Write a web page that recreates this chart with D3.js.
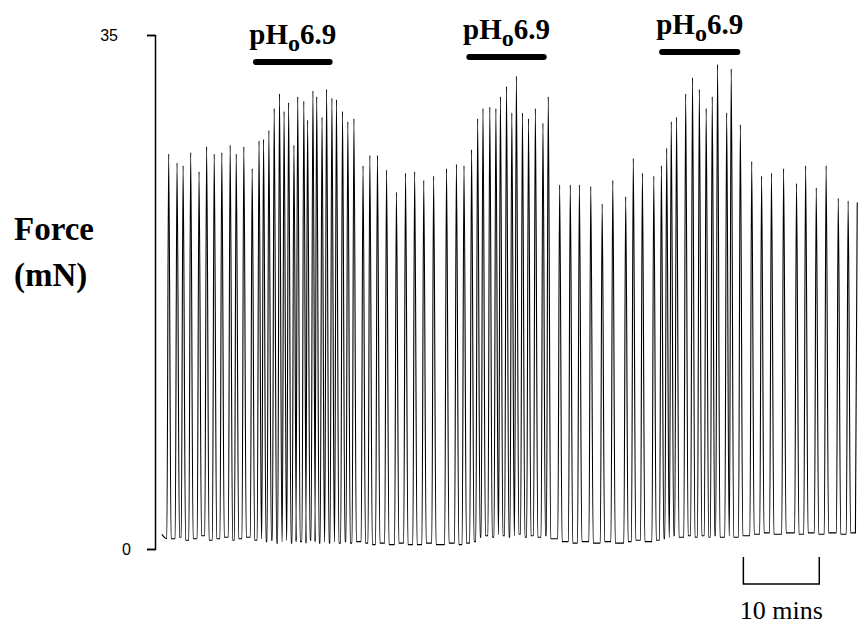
<!DOCTYPE html>
<html>
<head>
<meta charset="utf-8">
<script src="https://cdn.jsdelivr.net/npm/d3@7/dist/d3.min.js"></script>
<style>
    body { margin: 0; background: #fff; }
</style>
</head>
<body>
<div id="chart"></div>
<script>
// time of each contraction peak (mins from start of record)
let peakTime = [1.8, 2.9, 3.7, 4.7, 5.8, 6.8, 7.8, 8.8, 9.9, 10.7, 11.7, 12.8, 13.7,
    14.3, 15.0, 15.7, 16.4, 17.0, 17.6, 18.3, 18.8, 19.6, 20.1, 20.8, 21.3, 22.0, 22.6,
    23.3, 23.9, 24.7, 25.4, 26.2,
    27.4, 28.3, 29.3, 30.5, 31.8, 33.0, 34.2, 35.4, 36.7, 38.4, 39.7, 40.7, 41.7,
    42.5, 43.2, 44.1, 44.9, 45.5, 46.3, 47.0, 47.6, 48.4, 49.2, 50.1, 51.1, 51.8,
    53.3, 54.7, 55.9, 57.4, 58.9, 60.3, 62.0, 63.0, 64.2, 65.7, 66.7,
    67.4, 68.0, 68.7, 69.9, 70.8, 71.7, 72.6, 73.4, 74.1, 75.3, 75.9, 77.1,
    78.6, 79.9, 81.2, 82.8, 84.5, 85.7, 87.1, 88.4, 90.0, 91.3, 92.5]

// peak force of each contraction (mN)
let peakForce = [26.9, 26.3, 26.1, 27.0, 25.7, 27.4, 26.9, 27.0, 27.5, 26.9, 27.4, 25.9, 27.8,
    27.9, 28.5, 30.0, 31.0, 29.8, 30.4, 27.5, 30.8, 30.5, 29.2, 31.2, 30.8, 29.4, 31.3,
    30.7, 30.6, 29.8, 29.1, 29.3,
    26.1, 26.8, 26.8, 25.8, 24.3, 25.6, 25.7, 25.1, 25.4, 25.9, 26.2, 26.1, 27.2,
    29.3, 30.0, 30.1, 30.0, 30.8, 31.5, 29.7, 32.2, 29.7, 29.3, 30.0, 29.0, 30.8,
    24.8, 24.8, 24.8, 24.7, 23.5, 25.1, 24.0, 26.6, 25.6, 25.4, 26.1,
    27.3, 29.1, 29.4, 31.0, 32.1, 31.3, 30.0, 30.8, 33.0, 29.7, 32.7, 28.9,
    26.4, 25.4, 25.6, 25.9, 24.9, 26.1, 24.6, 26.1, 23.9, 23.7, 23.6]

// resting force after each contraction (mN)
let troughForce = [0.7, 0.8, 0.6, 0.7, 0.9, 0.6, 0.7, 0.8, 0.6, 0.7, 0.8, 0.6, 0.7,
    0.5, 0.6, 0.4, 0.5, 0.6, 0.4, 0.5, 0.5, 0.4, 0.6, 0.5, 0.4, 0.5, 0.4,
    0.5, 0.4, 0.5, 0.4, 0.5,
    0.4, 0.3, 0.4, 0.3, 0.4, 0.3, 0.3, 0.4, 0.3, 0.4, 0.3, 0.4, 0.5,
    0.8, 0.9, 0.8, 1.0, 0.9, 0.8, 0.9, 1.0, 0.8, 0.9, 0.8, 0.9, 0.7,
    0.5, 0.4, 0.5, 0.4, 0.5, 0.4, 0.5, 0.6, 0.5, 0.6, 0.7,
    0.8, 0.9, 0.8, 0.9, 0.8, 0.9, 0.8, 0.9, 0.8, 0.9, 0.8, 0.9,
    1.0, 1.1, 1.0, 1.1, 1.0, 1.1, 1.0, 1.1, 1.0, 1.1, 1.0]

// periods of acid superfusion (mins)
let acidStart = [13.3, 41.4, 66.8]
let acidEnd = [23.0, 51.2, 76.7]
let acidText = "6.9"

let yTicks = [0, 35]
let scaleBarStart = 77.5
let scaleBarMins = 10

let width = 859,
    height = 628;

let svg = d3.select("#chart")
    .append("svg")
    .attr("width", width)
    .attr("height", height)
    .style("font-family", "'Liberation Serif', 'Times New Roman', serif");

let x = d3.scaleLinear()
    .domain([0, 92.6])
    .range([155, 858]);

let y = d3.scaleLinear()
    .domain([0, 35])
    .range([549, 35]);

// Y axis, only 0 and 35 marked
let yAxis = svg.append("g")
    .attr("transform", "translate(" + x(0) + ",0)")
    .call(d3.axisLeft(y).tickValues(yTicks).tickSize(8).tickSizeOuter(8).tickPadding(26))
    .attr("font-size", 16)
    .attr("font-family", "'Liberation Sans', Arial, sans-serif");
yAxis.select(".domain").attr("stroke-width", 1.5);
yAxis.selectAll(".tick line").attr("stroke-width", 1.5);
yAxis.selectAll(".tick text")
    .style("font-size", "16px")
    .attr("x", (d) => d === 35 ? -37 : -24);

svg.append("text")
    .attr("x", 14).attr("y", 240)
    .style("font-weight", "bold").style("font-size", "33px")
    .text("Force");
svg.append("text")
    .attr("x", 14).attr("y", 286)
    .style("font-weight", "bold").style("font-size", "33px")
    .text("(mN)");

// build the trace: each contraction rises from rest, peaks and relaxes
let rise = 0.24,
    fall = 0.32;
let trace = [];
peakTime.forEach((t, i) => {
    let before = i === 0 ? troughForce[0] : troughForce[i - 1];
    trace.push({ t: t - rise, f: before });
    trace.push({ t: t, f: peakForce[i] });
    if (i < peakTime.length - 1) trace.push({ t: t + fall, f: troughForce[i] });
});
trace.unshift({ t: peakTime[0] - 0.9, f: troughForce[0] + 0.3 });

let line = d3.line()
    .x((d) => x(d.t))
    .y((d) => y(d.f))
    .curve(d3.curveMonotoneX);

svg.append("path")
    .attr("d", line(trace))
    .attr("fill", "none")
    .attr("stroke", "#000")
    .attr("stroke-width", 1.1);

// acid bars and labels
let barY = [62, 57, 52];
let acid = acidStart.map((s, i) => ({ start: s, end: acidEnd[i], y: barY[i] }));

svg.selectAll("acidBars")
    .data(acid)
    .enter()
    .append("line")
    .attr("x1", (d) => x(d.start))
    .attr("x2", (d) => x(d.end))
    .attr("y1", (d) => d.y)
    .attr("y2", (d) => d.y)
    .attr("stroke", "#000")
    .attr("stroke-width", 6)
    .attr("stroke-linecap", "round");

let labels = svg.selectAll("acidLabels")
    .data(acid)
    .enter()
    .append("text")
    .attr("x", (d) => (x(d.start) + x(d.end)) / 2)
    .attr("y", (d) => d.y - 18)
    .attr("text-anchor", "middle")
    .style("font-weight", "bold")
    .style("font-size", "29px");
labels.append("tspan").text("pH");
labels.append("tspan").attr("dy", 7).style("font-size", "24px").text("o");
labels.append("tspan").attr("dy", -7).text(acidText);

// 10 min scale bar
let sb = svg.append("g");
sb.append("path")
    .attr("d", "M" + x(scaleBarStart) + ",557V584H" + x(scaleBarStart + scaleBarMins) + "V557")
    .attr("fill", "none")
    .attr("stroke", "#000")
    .attr("stroke-width", 1.5);
sb.append("text")
    .attr("x", x(scaleBarStart + scaleBarMins / 2))
    .attr("y", 619)
    .attr("text-anchor", "middle")
    .style("font-size", "26px")
    .text(scaleBarMins + " mins");
</script>
</body>
</html>
